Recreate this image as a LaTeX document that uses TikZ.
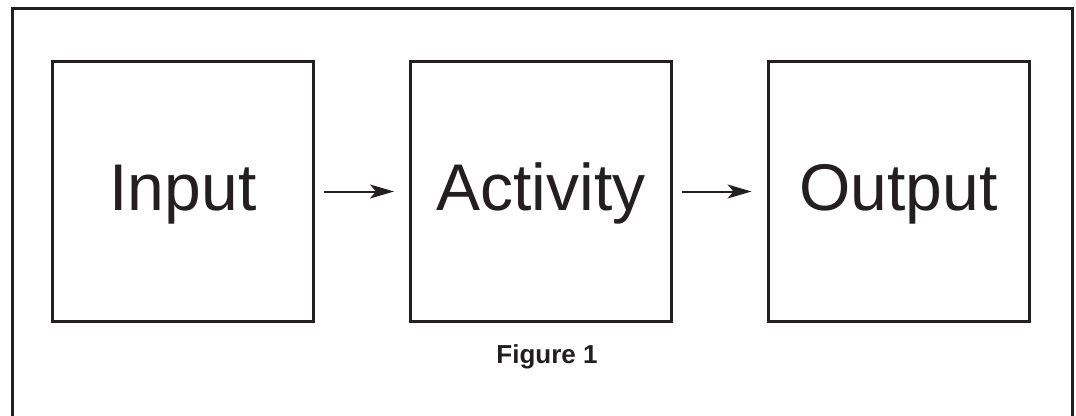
\documentclass[tikz,border=0pt]{standalone}
\usepackage{fontspec}
\setmainfont{Liberation Sans}
\usetikzlibrary{arrows.meta}
\definecolor{ink}{HTML}{231F20}
\tikzset{
  stagebox/.style={draw=ink, line width=3pt, minimum width=261pt, minimum height=260pt,
    inner sep=0pt, text=ink, font=\fontsize{66}{79}\selectfont, text height=49pt, text depth=12pt},
  flowarrow/.style={draw=ink, line width=2pt, -{Stealth[length=24pt,width=14pt,inset=6pt]},
    shorten <=9pt, shorten >=15pt},
}
\begin{document}
\begin{tikzpicture}[x=1pt,y=-1pt]
\useasboundingbox (0,0) rectangle (1076,415);
\draw[ink, line width=3pt] (12.5,420) -- (12.5,8.5) -- (1072.5,8.5) -- (1072.5,420);
\node[stagebox] (input) at (183,191.5) {Input};
\node[stagebox] (activity) at (541,191.5) {Activity};
\node[stagebox] (output) at (898.5,191.5) {Output};
\draw[flowarrow] (input.east) -- (activity.west);
\draw[flowarrow] (activity.east) -- (output.west);
\node[anchor=base, text=ink, font=\fontsize{26}{31}\selectfont\bfseries] (fig) at (547,363) {Figure 1};
\end{tikzpicture}
\end{document}
